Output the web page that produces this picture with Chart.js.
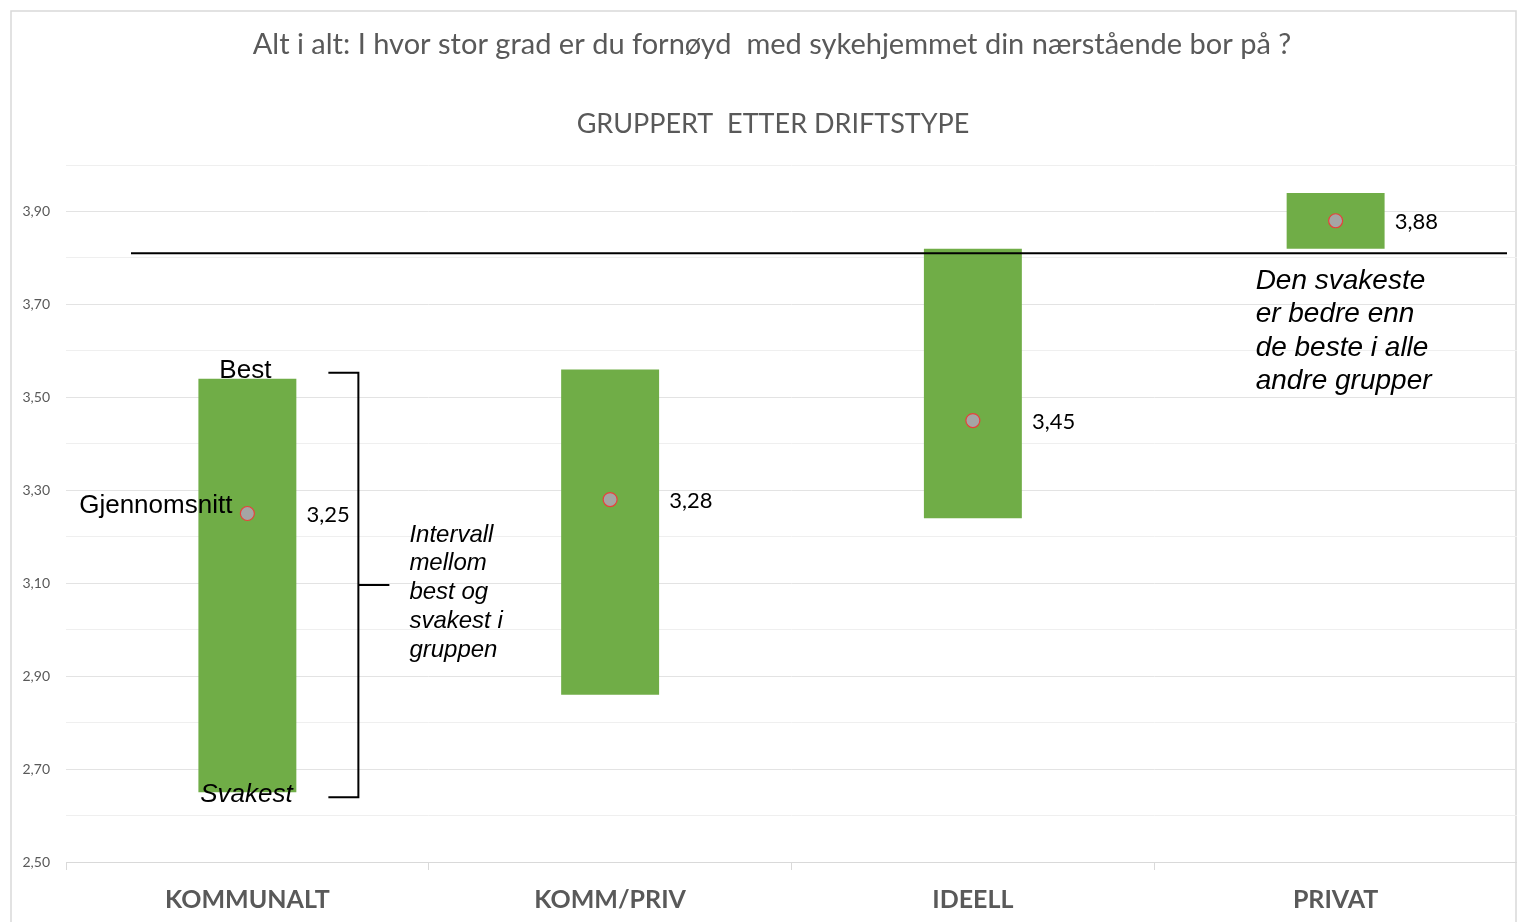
<!DOCTYPE html>
<html>
<head>
<meta charset="utf-8">
<script src="https://cdn.jsdelivr.net/npm/chart.js@4.4.1/dist/chart.umd.min.js"></script>
<style>
  body { margin: 0; background: #fff; }
  canvas { display: block; }
</style>
</head>
<body>
<canvas id="chart" width="1517" height="922"></canvas>
<script>

// data
const categories = ['KOMMUNALT', 'KOMM/PRIV', 'IDEELL', 'PRIVAT'];
const lowest  = [2.65, 2.86, 3.24, 3.82];
const highest = [3.54, 3.56, 3.82, 3.94];
const average = [3.25, 3.28, 3.45, 3.88];
const refLine = 3.81;

const titleText = 'Alt i alt: I hvor stor grad er du fornøyd  med sykehjemmet din nærstående bor på ?';
const subtitleText = 'GRUPPERT  ETTER DRIFTSTYPE';

const grey = '#595959';
const fmt = v => v.toFixed(2).replace('.', ',');

// text, bracket, frame and reference line
const extras = {
    id: 'extras',
    beforeDraw(chart) {
        const c = chart.ctx;
        c.save();
        c.strokeStyle = '#d9d9d9';
        c.lineWidth = 1.5;
        c.strokeRect(11, 11, 1505, 930);
        c.restore();
    },
    afterDraw(chart) {
        const c = chart.ctx;
        const x = chart.scales.x, y = chart.scales.y;
        const area = chart.chartArea;
        c.save();

        // titles
        c.fillStyle = grey;
        c.textAlign = 'center';
        c.textBaseline = 'middle';
        c.font = '29px Lato';
        c.fillText(titleText, 772, 45);
        c.font = '27px Lato';
        c.fillText(subtitleText, 773, 124);

        // reference line
        const ry = y.getPixelForValue(refLine);
        c.strokeStyle = '#000';
        c.lineWidth = 2;
        c.beginPath();
        c.moveTo(area.left + 65, ry);
        c.lineTo(area.right - 10, ry);
        c.stroke();

        // value labels next to the average points
        const pts = chart.getDatasetMeta(1).data;
        c.fillStyle = '#000';
        c.textAlign = 'left';
        c.font = '22px Lato';
        pts.forEach((p, i) => {
            c.fillText(fmt(average[i]), p.x + 59, p.y + 1);
        });

        // KOMMUNALT annotations
        const x0 = x.getPixelForValue(0);
        const top0 = y.getPixelForValue(highest[0]);
        const bot0 = y.getPixelForValue(lowest[0]);
        c.font = '26px "Liberation Sans"';
        c.textAlign = 'center';
        c.fillText('Best', x0 - 2, top0 - 8);
        c.textAlign = 'right';
        c.fillText('Gjennomsnitt', pts[0].x - 15, pts[0].y - 8);
        c.textAlign = 'center';
        c.font = 'italic 26px "Liberation Sans"';
        c.fillText('Svakest', x0 - 1, bot0 + 2);

        // bracket
        const bx = x0 + 111;
        const by1 = top0 - 6, by2 = bot0 + 5;
        c.lineWidth = 2;
        c.beginPath();
        c.moveTo(bx - 30, by1);
        c.lineTo(bx, by1);
        c.lineTo(bx, by2);
        c.lineTo(bx - 30, by2);
        c.moveTo(bx, (by1 + by2) / 2);
        c.lineTo(bx + 31, (by1 + by2) / 2);
        c.stroke();

        c.textAlign = 'left';
        c.font = 'italic 24px "Liberation Sans"';
        ['Intervall', 'mellom', 'best og', 'svakest i', 'gruppen'].forEach((t, i) => {
            c.fillText(t, bx + 51, 535 + i * 28.8);
        });

        c.font = 'italic 28px "Liberation Sans"';
        const x3 = x.getPixelForValue(3);
        ['Den svakeste', 'er bedre enn', 'de beste i alle', 'andre grupper'].forEach((t, i) => {
            c.fillText(t, x3 - 80, y.getPixelForValue(refLine) + 28 + i * 33.3);
        });

        c.restore();
    }
};

const ctx = document.getElementById('chart').getContext('2d');
const chart = new Chart(ctx, {
    type: 'bar',
    data: {
        labels: categories,
        datasets: [
            {
                type: 'bar',
                data: lowest.map((v, i) => [v, highest[i]]),
                backgroundColor: '#70AD47',
                borderWidth: 0,
                barPercentage: 0.27,
                categoryPercentage: 1,
                order: 2
            },
            {
                type: 'line',
                data: average,
                showLine: false,
                pointRadius: 7,
                pointBackgroundColor: '#A5A5A5',
                pointBorderColor: '#E8413B',
                pointBorderWidth: 1.2,
                order: 1
            }
        ]
    },
    options: {
        responsive: false,
        animation: false,
        layout: { autoPadding: false, padding: { top: 165, left: 0, right: 0, bottom: 0 } },
        plugins: {
            legend: { display: false },
            tooltip: { enabled: false },
            title: { display: false }
        },
        scales: {
            x: {
                offset: true,
                grid: {
                    offset: true,
                    drawOnChartArea: false,
                    drawTicks: true,
                    tickLength: 8,
                    color: '#d9d9d9'
                },
                border: { color: '#d9d9d9', width: 1 },
                ticks: {
                    color: grey,
                    font: { family: 'Lato', size: 25, weight: 'bold' },
                    padding: 15
                },
                afterFit: s => { s.height = 60; }
            },
            y: {
                min: 2.5,
                max: 4.0,
                ticks: {
                    stepSize: 0.1,
                    color: grey,
                    font: { family: 'Lato', size: 14 },
                    padding: 16,
                    callback: (v, i) => (i % 2 === 0 ? fmt(v) : '')
                },
                grid: {
                    color: ctx => (ctx.index % 2 === 0 ? '#e3e3e3' : '#efefef'),
                    drawTicks: false
                },
                border: { display: false },
                afterFit: s => { s.width = 66; }
            }
        }
    },
    plugins: [extras]
});
</script>
</body>
</html>
